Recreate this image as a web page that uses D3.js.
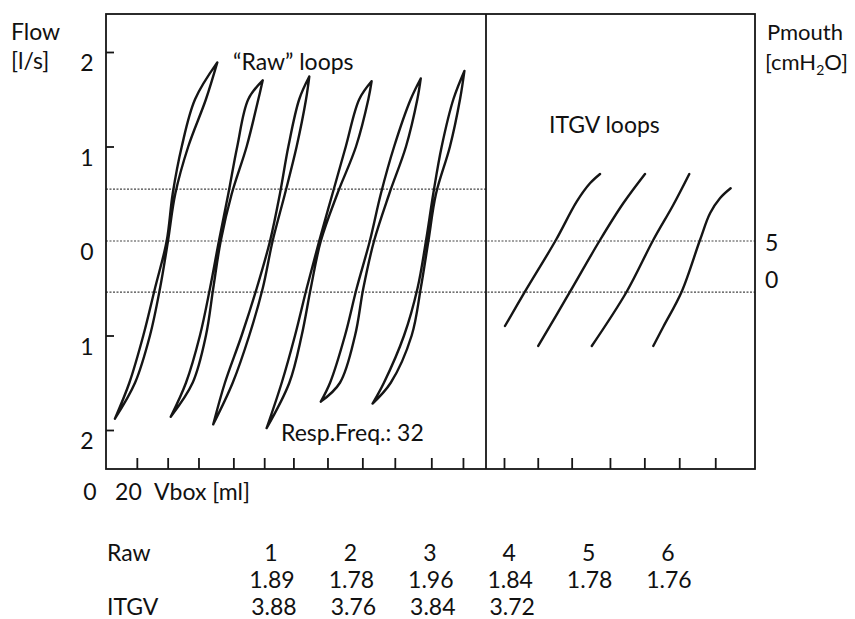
<!DOCTYPE html>
<html>
<head>
<meta charset="utf-8">
<script src="https://cdn.jsdelivr.net/npm/d3@7"></script>
<style>
  body { margin: 0; background: #fff; }
  text { font-family: Lato, "Open Sans", sans-serif; fill: #111; }
</style>
</head>
<body>
<svg id="chart" width="855" height="619"></svg>
<script>
// ---------------- data ----------------
const flowTicks = [2, 1, 0, -1, -2];                    // l/s
const vboxTicksLeft = [19, 38, 57, 78.5, 97.5, 115.5, 136.5, 158, 178, 200.5, 220];   // ml
const vboxTicksRight = [245.3, 266.1, 287, 310.6, 331.8, 353.3, 375.5];               // ml
const pmouthTicks = [5, 0];                             // cmH2O
const refFlowLeft = [0.55];                             // dotted line, left panel only
const refFlowBoth = [0, -0.54];                         // dotted lines, both panels

// Raw loops: flow levels at which both branches were read
const flowLevels = [-1.5, -1, -0.5, 0, 0.5, 1, 1.5];
// loop tips [Vbox ml, flow l/s]
const rawBottom = [[5.5, -1.88], [39.9, -1.86], [66.1, -1.94], [99.0, -1.98], [132.4, -1.70], [164.3, -1.72]];
const rawTop    = [[68.6, 1.89], [96.6, 1.70], [125.3, 1.74], [163.7, 1.69], [194.0, 1.72], [220.9, 1.80]];
// Vbox (ml) of the left branch at each flow level, per loop
const rawLeft = [
  [14.4, 23.0, 30.2, 37.4, 41.1, 46.7, 54.9],
  [49.3, 57.9, 64.1, 69.6, 75.4, 80.9, 87.7],
  [73.3, 83.6, 92.9, 101.1, 107.2, 112.4, 119.1],
  [108.3, 116.5, 123.7, 131.4, 139.6, 147.8, 156.1],
  [138.1, 147.3, 154.5, 162.6, 169.4, 177.6, 187.8],
  [171.3, 183.7, 192.0, 197.2, 201.7, 206.9, 214.1]
];
// Vbox (ml) of the right branch at each flow level, per loop
const rawRight = [
  [17.9, 27.1, 33.3, 38.2, 42.7, 50.7, 61.6],
  [53.4, 61.6, 66.1, 70.7, 77.5, 86.7, 93.9],
  [78.1, 88.3, 96.6, 102.7, 110.3, 117.5, 123.3],
  [113.0, 120.6, 126.2, 132.4, 142.6, 154.1, 161.7],
  [144.2, 153.5, 158.6, 165.2, 174.6, 184.9, 191.9],
  [175.5, 188.4, 194.0, 198.7, 203.4, 212.0, 218.2]
];
// ITGV loops: [Vbox ml, Pmouth cmH2O]
const itgv1 = [[245.9, -6.35], [258.2, -1.72], [277.3, 5.27], [290.1, 10.45], [298.3, 12.93], [304.5, 14.19]];
const itgv2 = [[266.4, -9.05], [286.0, -1.72], [304.5, 5.27], [318.8, 10.23], [332.2, 14.19]];
const itgv3 = [[299.4, -9.05], [320.9, -1.72], [337.3, 5.27], [349.6, 10.0], [359.5, 14.19]];
const itgv4 = [[337.3, -9.05], [343.5, -6.45], [354.8, -1.72], [366.1, 5.27], [372.3, 8.88], [378.4, 10.91], [385.0, 12.26]];

// table below the chart
const loopNumbers = ["1", "2", "3", "4", "5", "6"];
const rawValues  = ["1.89", "1.78", "1.96", "1.84", "1.78", "1.76"];
const itgvValues = ["3.88", "3.76", "3.84", "3.72"];

// ---------------- drawing ----------------
const svg = d3.select("#chart");
const fLeft = 106, fRight = 755, fTop = 14, fBottom = 469, fDivider = 486;

const x = d3.scaleLinear().domain([0, 400]).range([fLeft, fRight]);
const y = d3.scaleLinear().domain([-2, 2]).range([430, 52]);
const yP = d3.scaleLinear().domain([0, 5]).range([279, 242]);

const ink = "#151515";
const fs = 23;

// dotted reference lines
svg.append("g").selectAll("line").data(refFlowLeft).join("line")
  .attr("x1", fLeft).attr("x2", fDivider)
  .attr("y1", d => y(d)).attr("y2", d => y(d))
  .attr("stroke", "#444").attr("stroke-width", 1.2).attr("stroke-dasharray", "2,1.5");
svg.append("g").selectAll("line").data(refFlowBoth).join("line")
  .attr("x1", fLeft).attr("x2", fRight)
  .attr("y1", d => y(d)).attr("y2", d => y(d))
  .attr("stroke", "#444").attr("stroke-width", 1.2).attr("stroke-dasharray", "2,1.5");

// frame
const frame = svg.append("g").attr("fill", "none").attr("stroke", ink).attr("stroke-width", 1.8);
frame.append("rect").attr("x", fLeft).attr("y", fTop).attr("width", fRight - fLeft).attr("height", fBottom - fTop);
frame.append("line").attr("x1", fDivider).attr("x2", fDivider).attr("y1", fTop).attr("y2", fBottom);

// y axis (flow) ticks inward
const yAxis = d3.axisRight(y).tickValues(flowTicks).tickSize(8).tickFormat("");
const gy = svg.append("g").attr("transform", `translate(${fLeft},0)`).call(yAxis);
gy.select(".domain").remove();
gy.selectAll(".tick line").attr("stroke", ink).attr("stroke-width", 1.8);
gy.selectAll(".tick").filter(d => d === 0).remove();

svg.append("g").selectAll("text").data(flowTicks).join("text")
  .attr("x", 87).attr("y", d => y(d) + 10)
  .attr("text-anchor", "middle").attr("dominant-baseline", "central")
  .attr("font-size", fs)
  .text(d => Math.abs(d));

// x axis (Vbox) ticks inward
const xAxis = d3.axisTop(x).tickValues(vboxTicksLeft.concat(vboxTicksRight)).tickSize(11).tickFormat("");
const gx = svg.append("g").attr("transform", `translate(0,${fBottom})`).call(xAxis);
gx.select(".domain").remove();
gx.selectAll(".tick line").attr("stroke", ink).attr("stroke-width", 1.8);

svg.append("text").attr("x", x(0) - 16).attr("y", 500).attr("text-anchor", "middle")
  .attr("font-size", fs).text("0");
svg.append("text").attr("x", x(20) - 10).attr("y", 500).attr("text-anchor", "middle")
  .attr("font-size", fs).text("20");
svg.append("text").attr("x", 154).attr("y", 500).attr("font-size", fs).text("Vbox [ml]");

// Pmouth labels
svg.append("g").selectAll("text").data(pmouthTicks).join("text")
  .attr("x", 765).attr("y", d => yP(d))
  .attr("dominant-baseline", "central")
  .attr("font-size", fs)
  .text(d => d);

// axis titles
svg.append("text").attr("x", 11).attr("y", 40).attr("font-size", fs).text("Flow");
svg.append("text").attr("x", 11).attr("y", 69).attr("font-size", fs).text("[l/s]");
svg.append("text").attr("x", 767).attr("y", 40).attr("font-size", 22).text("Pmouth");
const cm = svg.append("text").attr("x", 765).attr("y", 70).attr("font-size", 22);
cm.append("tspan").text("[cmH");
cm.append("tspan").attr("font-size", 14).attr("dy", 5).text("2");
cm.append("tspan").attr("dy", -5).text("O]");

// annotations
svg.append("text").attr("x", 233).attr("y", 70).attr("font-size", fs).text("\u201CRaw\u201D loops");
svg.append("text").attr("x", 549).attr("y", 133).attr("font-size", fs).text("ITGV loops");
svg.append("text").attr("x", 281).attr("y", 441).attr("font-size", fs).text("Resp.Freq.: 32");

// raw loops
const line = d3.line().x(d => x(d[0])).y(d => y(d[1])).curve(d3.curveCatmullRom.alpha(0.5));
const loops = rawBottom.map((b, i) => {
  const up = [b].concat(flowLevels.map((f, k) => [rawLeft[i][k], f])).concat([rawTop[i]]);
  const down = [rawTop[i]].concat(flowLevels.map((f, k) => [rawRight[i][k], f]).reverse()).concat([b]);
  return line(up) + line(down);
});
svg.append("g").selectAll("path").data(loops).join("path")
  .attr("d", d => d)
  .attr("fill", "none").attr("stroke", ink).attr("stroke-width", 2.4)
  .attr("stroke-linejoin", "round").attr("stroke-linecap", "round");

// ITGV loops
const lineP = d3.line().x(d => x(d[0])).y(d => yP(d[1])).curve(d3.curveCatmullRom.alpha(0.5));
svg.append("g").selectAll("path").data([itgv1, itgv2, itgv3, itgv4]).join("path")
  .attr("d", lineP)
  .attr("fill", "none").attr("stroke", ink).attr("stroke-width", 2.4)
  .attr("stroke-linecap", "round");

// table
const col = d3.scalePoint().domain(loopNumbers).range([271, 668]);
svg.append("text").attr("x", 107).attr("y", 561).attr("font-size", fs).text("Raw");
svg.append("text").attr("x", 107).attr("y", 615).attr("font-size", fs).text("ITGV");
svg.append("g").selectAll("text").data(loopNumbers).join("text")
  .attr("x", d => col(d)).attr("y", 561)
  .attr("text-anchor", "middle").attr("font-size", fs).text(d => d);
svg.append("g").selectAll("text").data(rawValues).join("text")
  .attr("x", (d, i) => col(loopNumbers[i]) + 1).attr("y", 588)
  .attr("text-anchor", "middle").attr("font-size", fs).text(d => d);
svg.append("g").selectAll("text").data(itgvValues).join("text")
  .attr("x", (d, i) => col(loopNumbers[i]) + 3).attr("y", 615)
  .attr("text-anchor", "middle").attr("font-size", fs).text(d => d);
</script>
</body>
</html>
